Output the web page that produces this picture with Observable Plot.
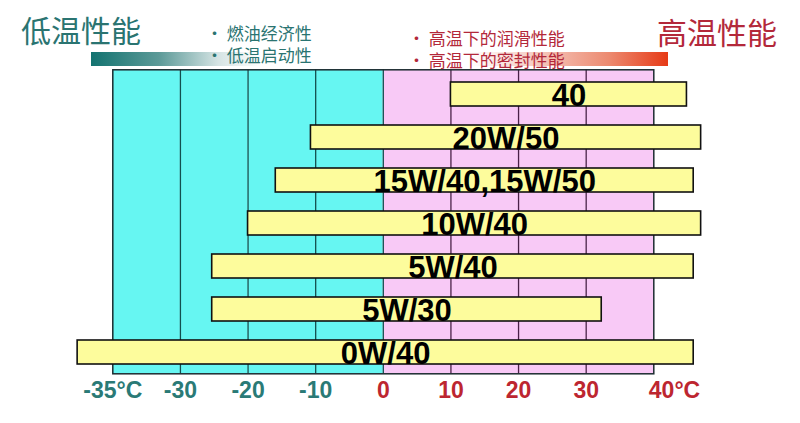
<!DOCTYPE html>
<html>
<head>
<meta charset="utf-8">
<script src="https://cdn.jsdelivr.net/npm/d3@7"></script>
<script src="https://cdn.jsdelivr.net/npm/@observablehq/plot@0.6"></script>
<style>
  html, body { margin: 0; padding: 0; background: #fff; }
  #wrap { position: relative; width: 800px; height: 423px; overflow: hidden; font-family: "Noto Sans CJK SC", "Noto Sans", sans-serif; }
  .abs { position: absolute; white-space: nowrap; line-height: 1; }
  .big { font-size: 30px; }
  .teal { color: #2a7471; }
  .red { color: #b3283a; }
  .small { font-size: 17px; }
  #gl { left: 91px; top: 52px; width: 170px; height: 14px; background: linear-gradient(to right, #137370 0%, #5c9a98 40%, #d6e4e4 75%, rgba(255,255,255,0) 100%); }
  #gr { left: 470px; top: 52px; width: 198px; height: 14px; background: linear-gradient(to right, rgba(255,255,255,0) 0%, #f6d0c8 30%, #ec8a70 70%, #e63a16 100%); }
  #chart { position: absolute; left: 0; top: 0; }
</style>
</head>
<body>
<div id="wrap">
  <div id="chart"></div>
  <div class="abs" id="gl"></div>
  <div class="abs" id="gr"></div>
  <div class="abs big teal" style="left:21px; top:14px;">低温性能</div>
  <div class="abs big red" style="left:657px; top:16px;">高温性能</div>
  <div class="abs small teal" style="left:206px; top:24px;">• 燃油经济性</div>
  <div class="abs small teal" style="left:206px; top:46px;">• 低温启动性</div>
  <div class="abs small red" style="left:408px; top:29px;">• 高温下的润滑性能</div>
  <div class="abs small red" style="left:408px; top:51px;">• 高温下的密封性能</div>
</div>
<script>
// Temperature ticks (°C) and their labels
const tickTemps = [-35, -30, -20, -10, 0, 10, 20, 30, 40];
const tickLabels = ["-35°C", "-30", "-20", "-10", "0", "10", "20", "30", "40°C"];

// Oil grades (top to bottom) and their usable temperature ranges (°C)
const grades = ["40", "20W/50", "15W/40,15W/50", "10W/40", "5W/40", "5W/30", "0W/40"];
const lowTemps = [10, -10.7, -15.9, -20, -25.3, -25.3, -37.6];
const highTemps = [44.9, 47, 45.9, 47, 45.9, 32.3, 45.9];

const W = 800, H = 423;
const mLeft = 112.3, mRight = 800 - 653.3, mTop = 69.3, mBottom = 423 - 373.3;
const step = (W - mLeft - mRight) / (tickTemps.length - 1);
const xRange = tickTemps.map((_, i) => mLeft + i * step);
const xs = d3.scaleLinear().domain(tickTemps).range(xRange);

const rows = grades.map((g, i) => ({
  grade: g,
  lo: lowTemps[i],
  hi: highTemps[i],
  mid: xs.invert((xs(lowTemps[i]) + xs(highTemps[i])) / 2)
}));

const cols = tickTemps.slice(0, -1).map((t, i) => ({x1: t, x2: tickTemps[i + 1]}));
const ticks = tickTemps.map((t, i) => ({t, label: tickLabels[i]}));

const chart = Plot.plot({
  width: W,
  height: H,
  marginLeft: mLeft,
  marginRight: mRight,
  marginTop: mTop,
  marginBottom: mBottom,
  x: {type: "linear", domain: tickTemps, range: xRange, axis: null},
  y: {type: "band", domain: grades, range: [81.3, 365.3], paddingInner: 0.4335, paddingOuter: 0, axis: null},
  style: {background: "transparent", overflow: "visible"},
  marks: [
    Plot.rect(cols, {x1: "x1", x2: "x2", fill: d => d.x1 < 0 ? "#66f6f2" : "#f8c9f6"}),
    Plot.ruleX(tickTemps.slice(1, -1), {stroke: d => d <= 0 ? "#134f4f" : "#4a2048", strokeWidth: 1.3}),
    Plot.frame({stroke: "#1c2b30", strokeWidth: 1.5}),
    Plot.barX(rows, {x1: "lo", x2: "hi", y: "grade", fill: "#fdfc9c", stroke: "#111", strokeWidth: 1.6}),
    Plot.text(rows, {
      x: "mid", y: "grade", text: "grade", dy: 2,
      fontFamily: "Liberation Sans, Arial, sans-serif", fontWeight: "bold", fontSize: 31, fill: "#000"
    }),
    Plot.text(ticks.slice(0, -1), {
      x: "t", text: "label", frameAnchor: "bottom", dy: 24,
      fill: d => d.t < 0 ? "#2a7a76" : "#bd2630",
      fontFamily: "Liberation Sans, Arial, sans-serif", fontWeight: "bold", fontSize: 23
    }),
    Plot.text(ticks.slice(-1), {
      x: "t", text: "label", frameAnchor: "bottom", dy: 24, dx: -5, textAnchor: "start",
      fill: "#bd2630",
      fontFamily: "Liberation Sans, Arial, sans-serif", fontWeight: "bold", fontSize: 23
    })
  ]
});
document.getElementById("chart").appendChild(chart);
</script>
</body>
</html>
